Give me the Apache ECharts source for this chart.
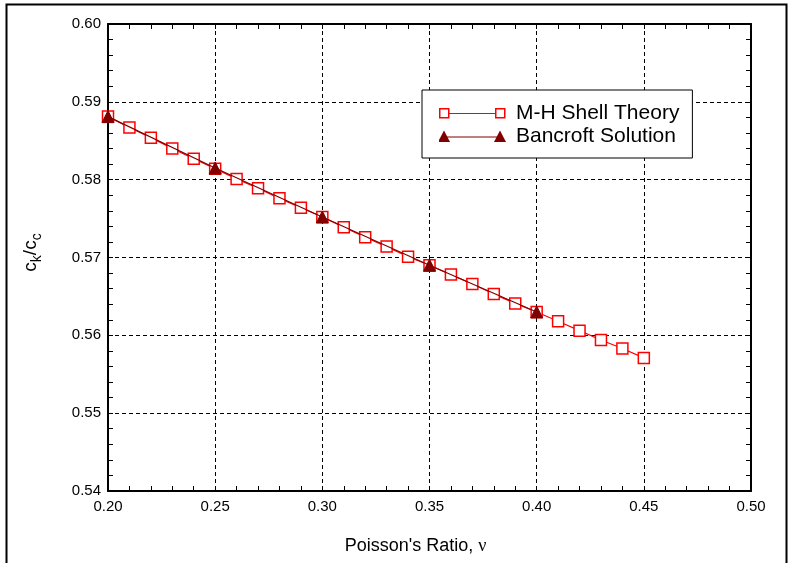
<!DOCTYPE html>
<html><head><meta charset="utf-8">
<script src="https://cdn.jsdelivr.net/npm/echarts@6/dist/echarts.min.js"></script>
<style>html,body{margin:0;padding:0;background:#fff}#c{width:791px;height:563px}</style>
</head><body><div id="c"></div>
<script>
const xMH = [0.20,0.21,0.22,0.23,0.24,0.25,0.26,0.27,0.28,0.29,0.30,0.31,0.32,0.33,0.34,0.35,0.36,0.37,0.38,0.39,0.40,0.41,0.42,0.43,0.44,0.45];
const yMH = [0.5881,0.5867,0.5854,0.5840,0.5827,0.5814,0.5801,0.5789,0.5776,0.5764,0.5752,0.5739,0.5726,0.5714,0.5701,0.5690,0.5678,0.5666,0.5653,0.5641,0.5630,0.5618,0.5606,0.5594,0.5583,0.5571];
const xB = [0.20,0.25,0.30,0.35,0.40];
const yB = [0.5881,0.5815,0.5752,0.5690,0.5630];
const nameMH = 'M-H Shell Theory';
const nameB = 'Bancroft Solution';
const xTitle = "Poisson's Ratio, ";
const FONT = 'Liberation Sans, Arial, sans-serif';

const RED = '#ff0000', DARK = '#800000';
function svgIcon(inner){
  const s = "<svg xmlns='http://www.w3.org/2000/svg' width='72' height='14' viewBox='0 0 72 14'>" + inner + "</svg>";
  return 'image://data:image/svg+xml;charset=utf-8,' + encodeURIComponent(s);
}
const iconMH = svgIcon(
  "<line x1='5' y1='7' x2='61' y2='7' stroke='"+RED+"' stroke-width='1.2'/>" +
  "<rect x='0.75' y='2.25' width='9' height='9' fill='white' stroke='"+RED+"' stroke-width='1.5'/>" +
  "<rect x='56.75' y='2.25' width='9' height='9' fill='white' stroke='"+RED+"' stroke-width='1.5'/>");
const iconB = svgIcon(
  "<line x1='5' y1='7.5' x2='61' y2='7.5' stroke='"+DARK+"' stroke-width='1.2'/>" +
  "<polygon points='5,1 11,12.5 -1,12.5' fill='"+DARK+"'/>" +
  "<polygon points='61,1 67,12.5 55,12.5' fill='"+DARK+"'/>");

const chart = echarts.init(document.getElementById('c'));
const axisCommon = {
  axisLine:{show:true,lineStyle:{color:'#000',width:2}},
  axisTick:{show:true,inside:true,length:5,lineStyle:{color:'#000',width:1}},
  minorTick:{show:true,splitNumber:5,length:5,lineStyle:{color:'#000',width:1}},
};
chart.setOption({
  animation:false,
  graphic:[{type:'rect',shape:{x:6.5,y:4.5,width:780,height:570},style:{fill:'none',stroke:'#000',lineWidth:2},z:-1}],
  grid:{left:108,right:40,top:24,bottom:72},
  legend:{
    show:true,
    left:422, top:90, orient:'vertical',
    padding:[12,13,10,17],
    itemGap:0,
    itemWidth:72, itemHeight:14,
    borderColor:'#000', borderWidth:1, backgroundColor:'#fff',
    textStyle:{fontFamily:FONT,fontSize:21,lineHeight:23,color:'#000'},
    data:[{name:nameMH,icon:iconMH},{name:nameB,icon:iconB}]
  },
  xAxis:[
    Object.assign({type:'value',min:0.20,max:0.50,interval:0.05,position:'bottom',
      axisLabel:{show:true,fontFamily:FONT,fontSize:15,color:'#000',margin:8,formatter:v=>v.toFixed(2)},
      name:'{a|'+xTitle+'}{n|ν}',nameLocation:'middle',nameGap:46,
      nameTextStyle:{padding:[0,28,0,0],rich:{a:{fontFamily:FONT,fontSize:18,color:'#000'},n:{fontFamily:'Liberation Serif, serif',fontSize:18,color:'#000'}}},
      splitLine:{show:true,lineStyle:{color:'#000',type:[4,3],width:1}}
    }, axisCommon),
    Object.assign({type:'value',min:0.20,max:0.50,interval:0.05,position:'top',axisLabel:{show:false},splitLine:{show:false}}, axisCommon)
  ],
  yAxis:[
    Object.assign({type:'value',min:0.54,max:0.60,interval:0.01,position:'left',
      axisLabel:{show:true,fontFamily:FONT,fontSize:15,color:'#000',margin:7,formatter:v=>v.toFixed(2)},
      name:'{a|c}{s|k}{a|/c}{s|c}',nameLocation:'middle',nameGap:64,
      nameTextStyle:{padding:[0,0,0,10],rich:{a:{fontFamily:FONT,fontSize:19,color:'#000'},s:{fontFamily:FONT,fontSize:14,color:'#000',padding:[12,0,0,0]}}},
      splitLine:{show:true,lineStyle:{color:'#000',type:[4,3],width:1}}
    }, axisCommon),
    Object.assign({type:'value',min:0.54,max:0.60,interval:0.01,position:'right',axisLabel:{show:false},splitLine:{show:false}}, axisCommon)
  ],
  series:[
    {name:nameMH,type:'line',xAxisIndex:0,yAxisIndex:0,
     data:xMH.map((x,i)=>[x,yMH[i]]),
     symbol:'rect',symbolSize:11,
     itemStyle:{color:'#fff',borderColor:RED,borderWidth:1.5},
     lineStyle:{color:RED,width:1.2},z:2},
    {name:nameB,type:'line',xAxisIndex:0,yAxisIndex:0,
     data:xB.map((x,i)=>[x,yB[i]]),
     symbol:'triangle',symbolSize:12,
     itemStyle:{color:DARK,borderColor:DARK},
     lineStyle:{color:DARK,width:1.2},z:3}
  ]
});
</script></body></html>
